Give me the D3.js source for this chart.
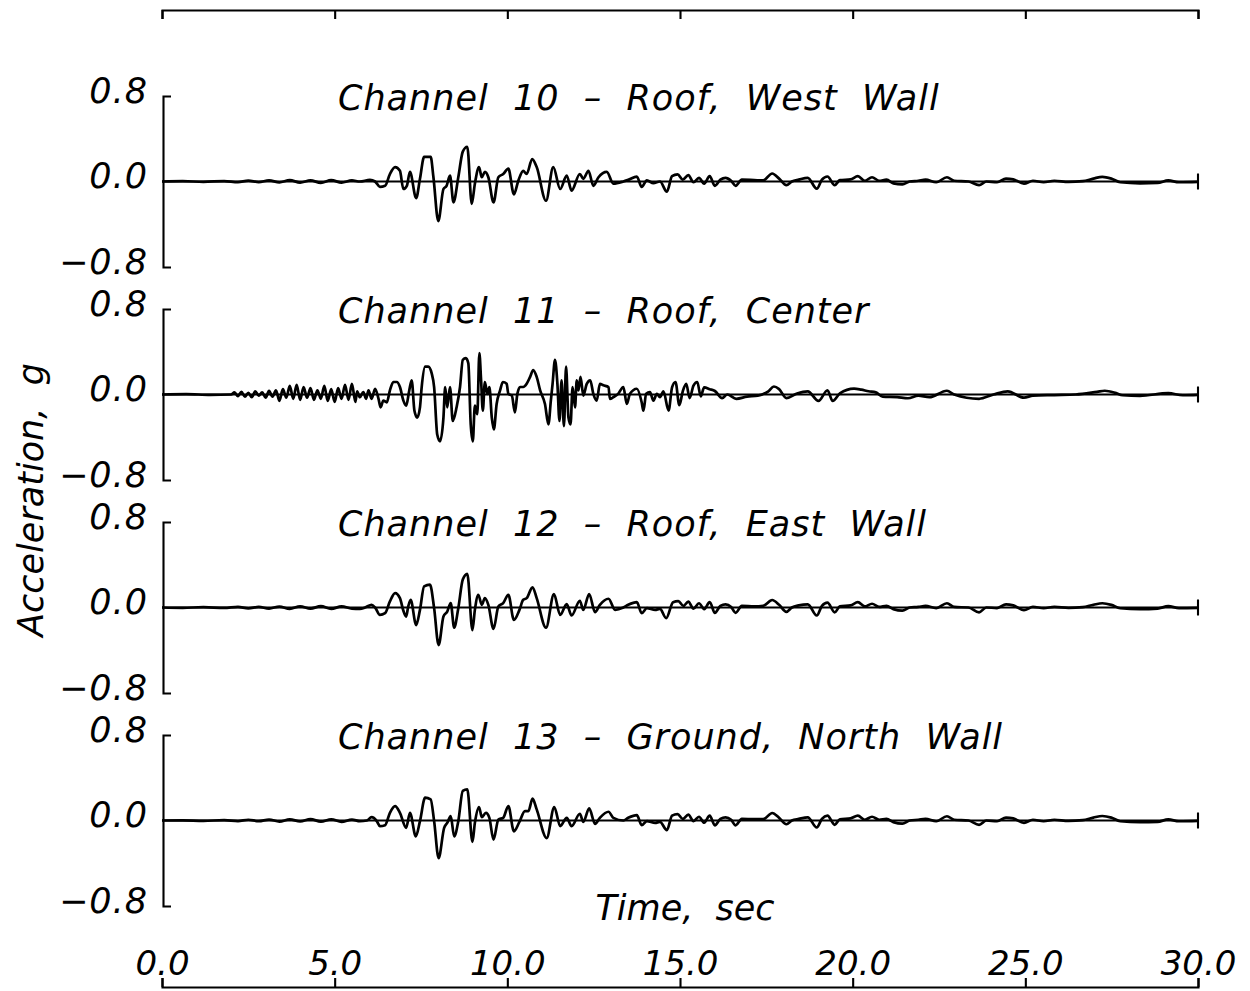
<!DOCTYPE html>
<html>
<head>
<meta charset="utf-8">
<script src="https://cdn.jsdelivr.net/npm/d3@7"></script>
<style>
  html, body { margin: 0; padding: 0; background: #fff; }
  svg { display: block; }
  text { font-family: "DejaVu Sans", sans-serif; font-style: oblique; font-weight: 200; fill: #000; }
</style>
</head>
<body>
<svg id="chart" width="1250" height="991"></svg>
<script>
// ---------------- data ----------------
const timeTicks = [0, 5, 10, 15, 20, 25, 30];
const timeTickLabels = ["0.0", "5.0", "10.0", "15.0", "20.0", "25.0", "30.0"];
const accTicks = [0.8, 0.0, -0.8];
const accTickLabels = ["0.8", "0.0", "\u22120.8"];
const channelTitles = [
  "Channel  10  \u2013  Roof,  West  Wall",
  "Channel  11  \u2013  Roof,  Center",
  "Channel  12  \u2013  Roof,  East  Wall",
  "Channel  13  \u2013  Ground,  North  Wall"
];
const xAxisTitle = "Time,  sec";
const yAxisTitle = "Acceleration,  g";

// [time (sec), acceleration (g)]
const ch10 = [
  [0,0],[0.6,0.003],[1.2,-0.003],[1.8,0.004],[2.2,-0.006],[2.5,0.008],[2.8,-0.005],[3.1,0.01],[3.4,-0.008],[3.7,0.012],[4.0,-0.01],[4.3,0.01],[4.6,-0.012],[4.9,0.012],[5.2,-0.01],[5.5,0.01],
  [5.73,0],[6.02,0.015],[6.17,0],[6.31,-0.05],[6.46,-0.04],[6.6,0.07],[6.75,0.135],[6.89,0.10],[6.99,-0.07],[7.09,-0.04],[7.18,0.09],[7.36,-0.155],[7.47,0.025],[7.59,0.23],[7.78,0.23],[7.86,0.04],[8.0,-0.37],[8.15,-0.07],[8.24,-0.04],[8.34,0.055],[8.44,-0.195],[8.58,0.04],[8.71,0.28],[8.84,0.325],[8.97,-0.21],[9.06,-0.02],[9.18,0.135],[9.26,0.04],[9.35,0.09],[9.45,0.04],[9.6,-0.195],[9.74,0.04],[9.88,0.07],[10.03,0.12],[10.19,-0.12],[10.32,0.01],[10.46,0.10],[10.56,0.07],[10.72,0.21],[10.85,0.135],[11.12,-0.18],[11.33,0.135],[11.53,-0.07],[11.72,0.055],[11.86,-0.085],[12.1,0.07],[12.2,0.025],[12.35,0.10],[12.49,-0.04],[12.64,0.04],[12.88,0.09],[13.07,-0.02],[13.36,0],[13.5,0.015],[13.75,0.045],[13.89,-0.05],[14.04,0.01],[14.23,-0.015],[14.42,0],
  [14.62,-0.095],[14.77,0.05],[14.93,0.067],[15.08,0.017],[15.24,0.06],[15.39,-0.007],[15.55,0.034],[15.7,-0.02],[15.86,0.05],[16.01,-0.04],[16.17,0.017],[16.32,0.034],[16.48,0.007],[16.61,-0.04],[16.79,0.017],[17.15,0.013],[17.41,0.01],[17.67,0.075],[17.87,0.027],[18.08,-0.034],[18.24,0],[18.44,0.017],[18.7,0.034],[18.96,-0.067],[19.11,0.017],[19.27,0.047],[19.48,-0.034],[19.63,0.013],[19.94,0.02],[20.15,0.05],[20.35,0.007],[20.56,0.04],[20.77,0.007],[20.98,0.017],[21.18,-0.017],[21.44,-0.027],[21.65,0],[21.9,0.007],[22.11,0.017],[22.42,-0.007],[22.73,0.04],[22.94,0.007],[23.35,0],[23.66,-0.034],[23.87,0],[24.18,-0.007],[24.44,0.027],[24.65,0.02],[24.96,-0.02],[25.22,0.007],[25.53,-0.007],[25.84,0.007],[26.25,-0.003],[26.66,0.003],[26.97,0.027],[27.23,0.044],[27.49,0.027],[27.75,-0.007],[28.32,-0.017],[28.83,-0.013],[29.14,0.01],[29.45,-0.007],[30,-0.003]
];

const ch11 = [
  [0,0],[0.7,0.004],[1.4,-0.004],[2.0,0],[2.1,0.02],[2.2,-0.015],[2.3,0.025],[2.4,-0.02],[2.5,0.015],[2.6,-0.025],[2.7,0.03],[2.8,-0.01],[2.9,0.02],[3.0,-0.03],[3.1,0.035],[3.2,-0.02],[3.3,0.04],[3.4,-0.06],[3.5,0.05],[3.6,-0.03],[3.7,0.08],[3.8,-0.04],[3.9,0.09],[4.0,-0.05],[4.1,0.07],[4.2,-0.03],[4.3,0.06],[4.4,-0.05],[4.5,0.04],[4.6,-0.04],[4.7,0.08],[4.8,-0.06],[4.9,0.05],[5.0,-0.07],[5.1,0.06],[5.2,-0.04],[5.3,0.09],[5.4,-0.05],[5.5,0.1],[5.6,-0.07],[5.65,0.03],
  [5.73,-0.025],[5.83,0.022],[5.91,-0.04],[5.98,0.038],[6.07,-0.04],[6.17,0.054],[6.27,-0.04],[6.33,-0.12],[6.41,-0.057],[6.51,-0.073],[6.6,0.038],[6.7,0.117],[6.8,0.117],[6.89,0.07],[6.99,-0.057],[7.07,-0.105],[7.16,0.038],[7.23,0.133],[7.31,-0.152],[7.39,-0.216],[7.47,-0.12],[7.52,0.07],[7.62,0.26],[7.71,0.26],[7.81,0.197],[7.88,0.07],[7.97,-0.375],[8.05,-0.438],[8.15,-0.216],[8.2,0.07],[8.26,-0.12],[8.34,0.07],[8.42,-0.248],[8.53,-0.12],[8.63,0.07],[8.71,0.324],[8.8,0.34],[8.87,0.292],[8.94,-0.279],[9.0,-0.438],[9.06,-0.105],[9.13,-0.184],[9.19,0.387],[9.24,0.133],[9.29,-0.152],[9.35,0.117],[9.42,0.006],[9.48,0.07],[9.55,-0.216],[9.61,-0.327],[9.69,-0.089],[9.79,0.038],[9.87,0.117],[9.98,0.1],[10.03,0.006],[10.13,-0.01],[10.22,-0.168],[10.29,0.006],[10.37,0.07],[10.46,0.07],[10.56,0.1],[10.66,0.165],[10.75,0.229],[10.85,0.165],[10.95,0.038],[11.09,-0.089],[11.19,-0.279],[11.26,-0.057],[11.31,0.1],[11.38,0.324],[11.45,0.1],[11.51,-0.248],[11.57,0.133],[11.64,-0.295],[11.7,0.26],[11.77,-0.216],[11.83,-0.279],[11.89,0.07],[11.96,-0.12],[12.01,0.133],[12.06,0.038],[12.12,0.165],[12.2,-0.01],[12.3,0.1],[12.4,0.133],[12.49,0.006],[12.59,-0.057],[12.68,0.1],[12.78,0.086],[12.93,0.07],[12.97,-0.041],[13.07,-0.025],[13.21,0.006],[13.36,0.07],[13.46,-0.089],[13.55,0.006],[13.75,0.054],[13.89,-0.073],[13.94,-0.152],[14.02,0.006],[14.13,0.022],[14.23,-0.057],[14.33,0.006],[14.42,-0.025],
  [14.52,0.03],[14.67,-0.15],[14.77,0.067],[14.87,0.117],[14.98,-0.1],[15.08,0.03],[15.18,0.1],[15.28,-0.033],[15.39,0.083],[15.5,0.117],[15.6,-0.017],[15.7,0.067],[15.86,0.05],[16.01,0.033],[16.22,-0.033],[16.37,0],[16.63,-0.04],[16.94,-0.02],[17.25,-0.01],[17.56,0.03],[17.72,0.075],[17.87,0.05],[18.08,-0.034],[18.39,0.01],[18.7,0.03],[19.01,-0.06],[19.27,0.04],[19.42,-0.06],[19.63,0.01],[20.04,0.055],[20.25,0.045],[20.46,0.03],[20.67,0.02],[20.87,-0.02],[21.29,-0.025],[21.6,-0.035],[21.9,-0.01],[22.22,-0.025],[22.73,0.035],[22.94,0],[23.66,-0.04],[24.08,0],[24.49,0.03],[24.96,-0.03],[25.22,-0.01],[25.84,-0.005],[26.46,0],[27.08,0.025],[27.3,0.035],[27.61,0.015],[27.82,-0.007],[28.32,-0.012],[29.14,0.012],[29.56,-0.007],[30,-0.003]
];

const ch12 = [
  [0,0],[0.6,-0.003],[1.2,0.003],[1.8,-0.004],[2.2,0.006],[2.5,-0.008],[2.8,0.006],[3.1,-0.01],[3.4,0.009],[3.7,-0.012],[4.0,0.011],[4.3,-0.01],[4.6,0.012],[4.9,-0.012],[5.2,0.01],[5.5,-0.01],
  [5.73,-0.013],[5.88,0],[6.07,0.025],[6.17,0],[6.31,-0.069],[6.46,-0.053],[6.6,0.057],[6.75,0.135],[6.89,0.088],[6.99,-0.031],[7.07,-0.085],[7.13,0.009],[7.2,0.072],[7.36,-0.164],[7.47,-0.022],[7.59,0.198],[7.76,0.214],[7.88,-0.006],[8.01,-0.352],[8.15,-0.085],[8.26,-0.038],[8.36,0.041],[8.46,-0.189],[8.58,-0.006],[8.71,0.261],[8.84,0.314],[8.99,-0.211],[9.06,-0.022],[9.16,0.119],[9.26,0.025],[9.35,0.088],[9.45,0.025],[9.6,-0.201],[9.74,0.009],[9.88,0.041],[10.03,0.119],[10.19,-0.116],[10.35,-0.022],[10.46,0.072],[10.56,0.088],[10.73,0.189],[10.85,0.088],[11.12,-0.189],[11.35,0.126],[11.53,-0.069],[11.72,0.031],[11.86,-0.075],[12.1,0.063],[12.2,-0.022],[12.37,0.126],[12.54,-0.044],[12.68,0.025],[12.93,0.082],[13.12,-0.022],[13.36,0],[13.5,0.025],[13.75,0.05],[13.89,-0.053],[14.04,-0.006],[14.28,-0.022],[14.42,-0.013],
  [14.6,-0.1],[14.8,0.05],[14.95,0.06],[15.1,0.015],[15.24,0.055],[15.39,-0.01],[15.55,0.04],[15.7,-0.015],[15.86,0.05],[16.01,-0.05],[16.17,0.015],[16.32,0.03],[16.48,0.005],[16.61,-0.05],[16.79,0.015],[17.15,0.01],[17.41,0.015],[17.67,0.07],[17.87,0.025],[18.08,-0.04],[18.24,0],[18.44,0.02],[18.7,0.03],[18.96,-0.075],[19.11,0.015],[19.27,0.045],[19.48,-0.045],[19.63,0.01],[19.94,0.02],[20.15,0.05],[20.35,0.01],[20.56,0.035],[20.77,0.005],[20.98,0.015],[21.18,-0.015],[21.44,-0.03],[21.65,0],[21.9,0.005],[22.11,0.015],[22.42,-0.005],[22.73,0.04],[22.94,0.005],[23.35,0],[23.66,-0.045],[23.87,0],[24.18,-0.005],[24.44,0.03],[24.65,0.02],[24.96,-0.025],[25.22,0.005],[25.53,-0.005],[25.84,0.005],[26.25,-0.003],[26.66,0.003],[26.97,0.025],[27.23,0.04],[27.49,0.025],[27.75,-0.007],[28.32,-0.015],[28.83,-0.01],[29.14,0.012],[29.45,-0.005],[30,-0.003]
];

const ch13 = [
  [0,0],[0.6,0.002],[1.2,-0.003],[1.8,0.003],[2.2,-0.005],[2.5,0.007],[2.8,-0.006],[3.1,0.009],[3.4,-0.01],[3.7,0.011],[4.0,-0.009],[4.3,0.012],[4.6,-0.01],[4.9,0.011],[5.2,-0.012],[5.5,0.009],
  [5.73,-0.006],[5.93,0],[6.07,0.031],[6.22,-0.006],[6.31,-0.053],[6.46,-0.044],[6.6,0.072],[6.75,0.135],[6.89,0.072],[7.07,-0.069],[7.18,0.072],[7.35,-0.148],[7.47,-0.006],[7.62,0.214],[7.78,0.198],[7.88,-0.006],[8.01,-0.352],[8.17,-0.069],[8.26,-0.022],[8.36,0.041],[8.46,-0.148],[8.58,-0.006],[8.71,0.277],[8.84,0.292],[8.99,-0.201],[9.06,-0.022],[9.18,0.126],[9.26,0.031],[9.38,0.072],[9.48,0.025],[9.6,-0.179],[9.74,0.009],[9.88,0.025],[10.03,0.135],[10.19,-0.101],[10.35,-0.013],[10.51,0.088],[10.61,0.088],[10.73,0.204],[10.85,0.104],[11.14,-0.164],[11.36,0.126],[11.53,-0.053],[11.72,0.025],[11.86,-0.053],[12.1,0.063],[12.2,-0.013],[12.37,0.113],[12.54,-0.031],[12.68,0.025],[12.93,0.082],[13.07,0.025],[13.36,0],[13.5,0.025],[13.75,0.05],[13.89,-0.044],[14.04,-0.006],[14.28,-0.022],[14.42,-0.013],
  [14.62,-0.09],[14.77,0.045],[14.93,0.06],[15.08,0.015],[15.24,0.055],[15.39,-0.005],[15.55,0.035],[15.7,-0.02],[15.86,0.045],[16.01,-0.045],[16.17,0.015],[16.32,0.03],[16.48,0.007],[16.61,-0.045],[16.79,0.015],[17.15,0.012],[17.41,0.012],[17.67,0.07],[17.87,0.025],[18.08,-0.035],[18.24,0],[18.44,0.015],[18.7,0.03],[18.96,-0.065],[19.11,0.015],[19.27,0.045],[19.48,-0.04],[19.63,0.012],[19.94,0.02],[20.15,0.045],[20.35,0.007],[20.56,0.035],[20.77,0.007],[20.98,0.015],[21.18,-0.015],[21.44,-0.03],[21.65,0],[21.9,0.007],[22.11,0.015],[22.42,-0.007],[22.73,0.04],[22.94,0.007],[23.35,0],[23.66,-0.04],[23.87,0],[24.18,-0.007],[24.44,0.027],[24.65,0.02],[24.96,-0.022],[25.22,0.007],[25.53,-0.007],[25.84,0.007],[26.25,-0.003],[26.66,0.003],[26.97,0.027],[27.23,0.042],[27.49,0.027],[27.75,-0.007],[28.32,-0.015],[28.83,-0.012],[29.14,0.01],[29.45,-0.007],[30,-0.003]
];

const series = [ch10, ch11, ch12, ch13];

// ---------------- layout ----------------
const svg = d3.select("#chart");
const x = d3.scaleLinear().domain([0, 30]).range([162, 1198]);
const panelTop0 = 96, panelStep = 213, panelH = 171;
const topAxisY = 10, bottomAxisY = 987;
const axisW = 2.1, traceW = 2.7;

// top time axis (ticks only)
svg.append("g")
  .attr("transform", `translate(0,${topAxisY})`)
  .call(d3.axisBottom(x).tickValues(timeTicks).tickSize(9).tickFormat(""))
  .call(g => g.selectAll("path,line").attr("stroke", "#000").attr("stroke-width", axisW));

// bottom time axis with labels above
svg.append("g")
  .attr("transform", `translate(0,${bottomAxisY})`)
  .call(d3.axisTop(x).tickValues(timeTicks).tickSize(9).tickPadding(3)
        .tickFormat((d, i) => timeTickLabels[i]))
  .call(g => g.selectAll("path,line").attr("stroke", "#000").attr("stroke-width", axisW))
  .call(g => g.selectAll("text")
        .attr("font-family", null).attr("font-size", null)
        .style("font-size", "34px").attr("fill", "#000"));

// panels
series.forEach((data, i) => {
  const top = panelTop0 + i * panelStep;
  const y = d3.scaleLinear().domain([-0.8, 0.8]).range([top + panelH, top]);
  const g = svg.append("g");

  // left bracket axis with labels
  g.append("g")
    .attr("transform", "translate(163,0)")
    .call(d3.axisLeft(y).tickValues(accTicks).tickSizeInner(0).tickSizeOuter(-8).tickPadding(15)
          .tickFormat((d, k) => accTickLabels[k]))
    .call(a => a.selectAll("path,line").attr("stroke", "#000").attr("stroke-width", axisW))
    .call(a => a.selectAll("text")
          .attr("font-family", null).attr("font-size", null)
          .attr("dy", "0.18em")
          .style("font-size", "35px").style("letter-spacing", "1px").attr("fill", "#000"));

  // zero line + end tick
  g.append("line")
    .attr("x1", x(0)).attr("x2", x(30))
    .attr("y1", y(0)).attr("y2", y(0))
    .attr("stroke", "#000").attr("stroke-width", axisW);
  g.append("line")
    .attr("x1", x(30)).attr("x2", x(30))
    .attr("y1", y(0) - 8).attr("y2", y(0) + 8)
    .attr("stroke", "#000").attr("stroke-width", axisW);

  // trace
  const line = d3.line()
    .x(d => x(d[0]))
    .y(d => y(d[1]))
    .curve(d3.curveMonotoneX);
  g.append("path")
    .datum(data)
    .attr("d", line)
    .attr("fill", "none")
    .attr("stroke", "#000")
    .attr("stroke-width", traceW)
    .attr("stroke-linejoin", "round");

  // title
  g.append("text")
    .attr("x", 338)
    .attr("y", y(0.8) + 14)
    .style("font-size", "35px")
    .style("letter-spacing", "1px")
    .style("white-space", "pre")
    .text(channelTitles[i]);
});

// axis titles
svg.append("text")
  .attr("x", 685).attr("y", 920)
  .attr("text-anchor", "middle")
  .style("font-size", "35px")
  .style("white-space", "pre")
  .text(xAxisTitle);

svg.append("text")
  .attr("transform", "translate(43,500) rotate(-90)")
  .attr("text-anchor", "middle")
  .style("font-size", "35px")
  .style("white-space", "pre")
  .text(yAxisTitle);
</script>
</body>
</html>
